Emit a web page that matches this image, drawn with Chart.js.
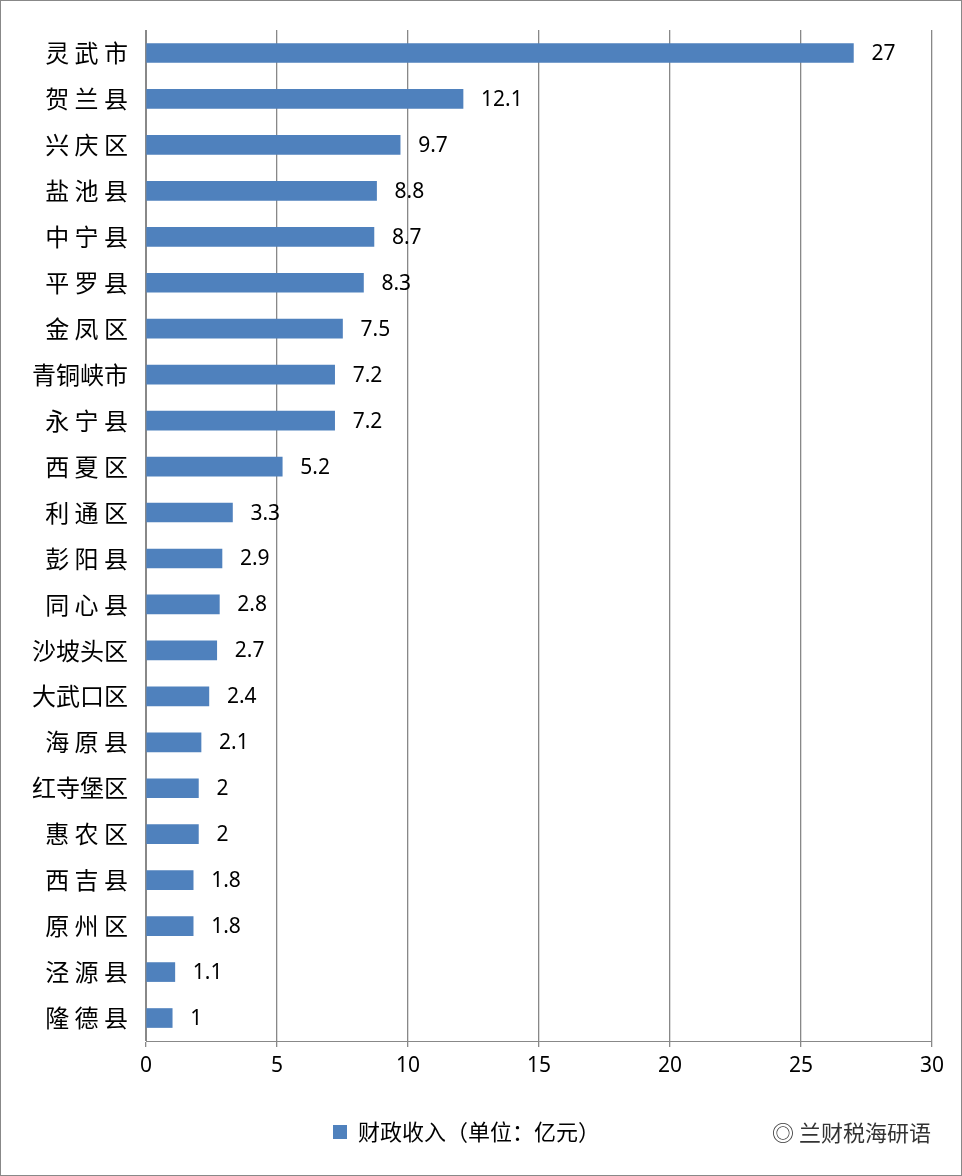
<!DOCTYPE html>
<html>
<head>
<meta charset="utf-8">
<script src="https://cdn.jsdelivr.net/npm/chart.js@4.4.0/dist/chart.umd.min.js"></script>
<style>
  html, body { margin: 0; padding: 0; background: #fff; }
  #wrap { position: relative; width: 960px; height: 1174px; border: 1px solid #888; }
  #mark { position: absolute; right: 30px; bottom: 28px; font: 22px "Noto Sans CJK SC"; color: #333; }
</style>
</head>
<body>
<div id="wrap">
  <canvas id="chart" width="960" height="1174"></canvas>
  <div id="mark">◎ 兰财税海研语</div>
</div>
<script>
// 地区名称
const regions = ['灵 武 市', '贺 兰 县', '兴 庆 区', '盐 池 县', '中 宁 县', '平 罗 县', '金 凤 区', '青铜峡市',
  '永 宁 县', '西 夏 区', '利 通 区', '彭 阳 县', '同 心 县', '沙坡头区', '大武口区', '海 原 县',
  '红寺堡区', '惠 农 区', '西 吉 县', '原 州 区', '泾 源 县', '隆 德 县'];
// 财政收入（亿元）
const revenue = [27, 12.1, 9.7, 8.8, 8.7, 8.3, 7.5, 7.2, 7.2, 5.2, 3.3, 2.9, 2.8, 2.7, 2.4, 2.1, 2, 2, 1.8, 1.8, 1.1, 1];
const seriesName = '财政收入（单位：亿元）';

// 数值标签
const valueLabels = {
    id: 'valueLabels',
    afterDatasetsDraw(chart) {
        const ctx = chart.ctx;
        const meta = chart.getDatasetMeta(0);
        ctx.save();
        ctx.font = '21px "Noto Sans", sans-serif';
        ctx.fillStyle = '#000';
        ctx.textBaseline = 'middle';
        meta.data.forEach((bar, i) => {
            ctx.fillText(String(revenue[i]), bar.x + 18, bar.y + 1);
        });
        ctx.restore();
    }
};

new Chart(document.getElementById('chart'), {
    type: 'bar',
    data: {
        labels: regions,
        datasets: [{
            label: seriesName,
            data: revenue,
            backgroundColor: '#4f81bd',
            barThickness: 19
        }]
    },
    options: {
        indexAxis: 'y',
        responsive: false,
        animation: false,
        layout: { padding: { top: 29, right: 29, bottom: 22, left: 0 } },
        plugins: {
            legend: {
                position: 'bottom',
                labels: {
                    boxWidth: 14, boxHeight: 14, padding: 10,
                    color: '#000',
                    font: { size: 22, family: '"Noto Sans CJK SC"' }
                }
            },
            tooltip: { enabled: false }
        },
        scales: {
            x: {
                min: 0, max: 30,
                ticks: { stepSize: 5, color: '#000', font: { size: 21, family: '"Noto Sans"' }, padding: 6 },
                grid: { color: '#888', lineWidth: 1.3, tickLength: 6 },
                border: { color: '#888' },
                afterFit: s => { s.height = 70; }
            },
            y: {
                ticks: { color: '#000', font: { size: 24, family: '"Noto Sans CJK SC"' }, padding: 12 },
                grid: { display: false, tickLength: 6 },
                border: { color: '#888' },
                afterFit: s => { s.width = 145; }
            }
        }
    },
    plugins: [valueLabels]
});
</script>
</body>
</html>
